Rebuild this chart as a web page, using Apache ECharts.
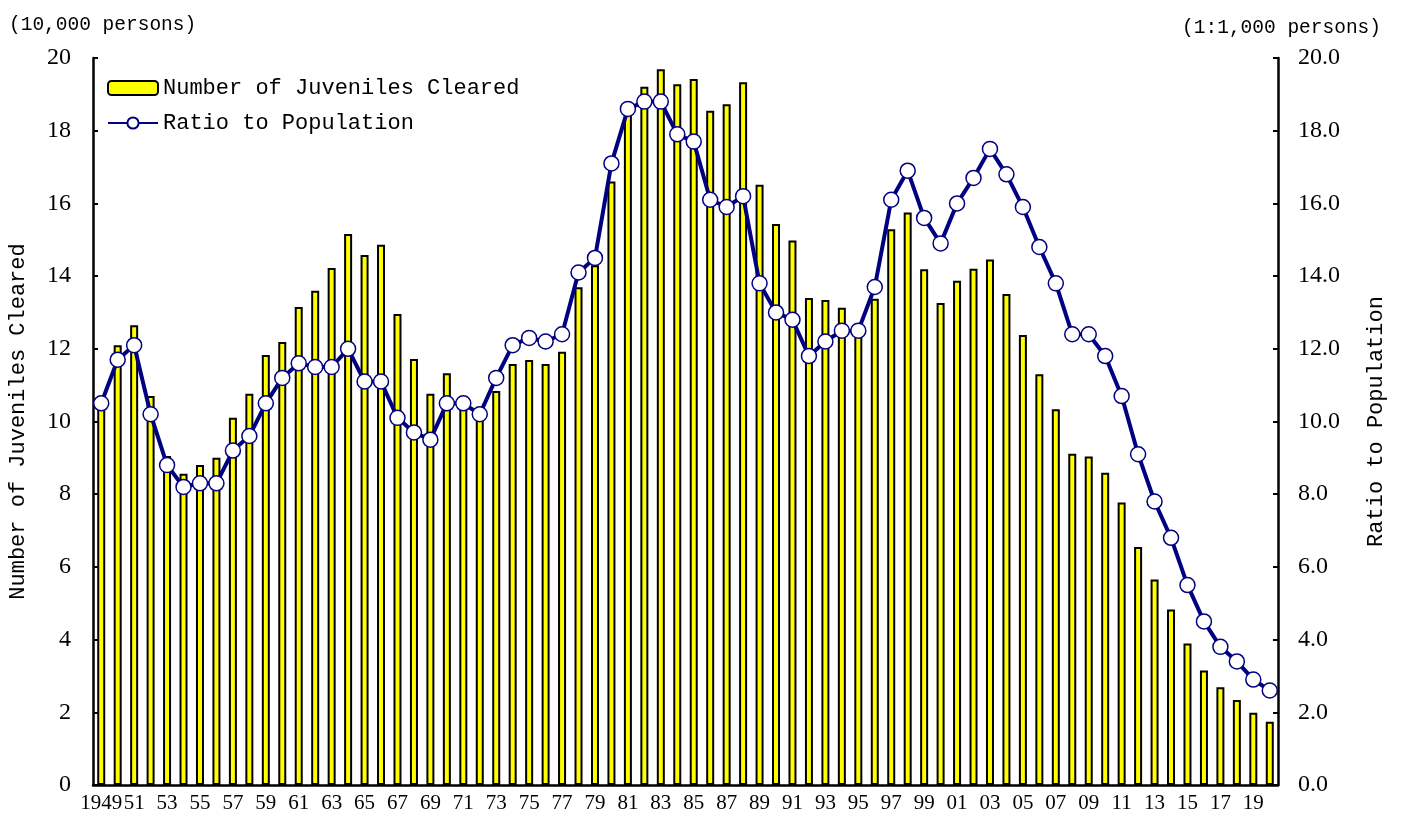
<!DOCTYPE html>
<html>
<head>
<meta charset="utf-8">
<script src="https://cdn.jsdelivr.net/npm/echarts@6/dist/echarts.min.js"></script>
<style>
  html, body { margin: 0; padding: 0; background: #fff; }
  #chart { width: 1402px; height: 820px; }
</style>
</head>
<body>
<div id="chart"></div>
<script>
// years 1949 - 2020
const years = [
  '1949', '1950', '1951', '1952', '1953', '1954', '1955', '1956', '1957', '1958',
  '1959', '1960', '1961', '1962', '1963', '1964', '1965', '1966', '1967', '1968',
  '1969', '1970', '1971', '1972', '1973', '1974', '1975', '1976', '1977', '1978',
  '1979', '1980', '1981', '1982', '1983', '1984', '1985', '1986', '1987', '1988',
  '1989', '1990', '1991', '1992', '1993', '1994', '1995', '1996', '1997', '1998',
  '1999', '2000', '2001', '2002', '2003', '2004', '2005', '2006', '2007', '2008',
  '2009', '2010', '2011', '2012', '2013', '2014', '2015', '2016', '2017', '2018',
  '2019', '2020'
]

// number of juveniles cleared (10,000 persons)
const juveniles = [
  10.7, 12.1, 12.65, 10.7, 9.05, 8.56, 8.8, 9.0, 10.1, 10.76,
  11.83, 12.19, 13.15, 13.6, 14.22, 15.16, 14.58, 14.86, 12.96, 11.72,
  10.76, 11.33, 10.7, 10.18, 10.84, 11.58, 11.69, 11.58, 11.92, 13.69,
  14.3, 16.6, 18.5, 19.21, 19.69, 19.28, 19.42, 18.55, 18.73, 19.33,
  16.51, 15.43, 14.98, 13.4, 13.34, 13.13, 12.6, 13.38, 15.29, 15.75,
  14.19, 13.26, 13.87, 14.2, 14.46, 13.51, 12.38, 11.3, 10.34, 9.11,
  9.04, 8.59, 7.77, 6.55, 5.65, 4.83, 3.89, 3.15, 2.69, 2.34,
  1.99, 1.74
]

// ratio to population (per 1,000 persons)
const ratio = [
  10.5, 11.7, 12.1, 10.2, 8.8, 8.2, 8.3, 8.3, 9.2, 9.6,
  10.5, 11.2, 11.6, 11.5, 11.5, 12.0, 11.1, 11.1, 10.1, 9.7,
  9.5, 10.5, 10.5, 10.2, 11.2, 12.1, 12.3, 12.2, 12.4, 14.1,
  14.5, 17.1, 18.6, 18.8, 18.8, 17.9, 17.7, 16.1, 15.9, 16.2,
  13.8, 13.0, 12.8, 11.8, 12.2, 12.5, 12.5, 13.7, 16.1, 16.9,
  15.6, 14.9, 16.0, 16.7, 17.5, 16.8, 15.9, 14.8, 13.8, 12.4,
  12.4, 11.8, 10.7, 9.1, 7.8, 6.8, 5.5, 4.5, 3.8, 3.4,
  2.9, 2.6
]

const seriesNames = ['Number of Juveniles Cleared', 'Ratio to Population']

const serif = 'Liberation Serif'
const mono = 'Liberation Mono'

const chart = echarts.init(document.getElementById('chart'))

const option = {
  animation: false,
  backgroundColor: '#fff',
  title: [
    {
      text: '(10,000 persons)',
      left: 4,
      top: 10,
      textStyle: { fontFamily: mono, fontSize: 19.5, fontWeight: 'normal', color: '#000' }
    },
    {
      text: '(1:1,000 persons)',
      right: 16,
      top: 13,
      textStyle: { fontFamily: mono, fontSize: 19.5, fontWeight: 'normal', color: '#000' }
    }
  ],
  legend: {
    orient: 'vertical',
    left: 102,
    top: 72,
    itemWidth: 50,
    itemHeight: 14,
    itemGap: 13,
    textStyle: { fontFamily: mono, fontSize: 22, color: '#000', lineHeight: 22 },
    data: seriesNames
  },
  grid: {
    left: 93,
    right: 124,
    top: 58,
    bottom: 35,
    containLabel: false,
    outerBoundsMode: 'none'
  },
  xAxis: {
    type: 'category',
    data: years,
    boundaryGap: true,
    axisLine: { lineStyle: { color: '#000', width: 2.5 } },
    axisTick: { inside: true, length: 5, interval: 0, lineStyle: { color: '#000', width: 2 } },
    axisLabel: {
      interval: 1,
      margin: 8,
      fontFamily: serif,
      fontSize: 21,
      color: '#000',
      formatter: function (v) {
        return v === '1949' ? v : v.slice(2)
      }
    }
  },
  yAxis: [
    {
      type: 'value',
      min: 0,
      max: 20,
      interval: 2,
      name: 'Number of Juveniles Cleared',
      nameLocation: 'middle',
      nameGap: 64,
      nameMoveOverlap: false,
      nameTextStyle: { fontFamily: mono, fontSize: 22, color: '#000' },
      axisLine: { show: true, lineStyle: { color: '#000', width: 2.5 } },
      axisTick: { show: true, inside: true, length: 5, lineStyle: { color: '#000', width: 2 } },
      axisLabel: { margin: 22, fontFamily: serif, fontSize: 24, color: '#000' },
      splitLine: { show: false }
    },
    {
      type: 'value',
      min: 0,
      max: 20,
      interval: 2,
      name: 'Ratio to Population',
      nameLocation: 'middle',
      nameGap: 87,
      nameRotate: 90,
      nameMoveOverlap: false,
      nameTextStyle: { fontFamily: mono, fontSize: 22, color: '#000' },
      axisLine: { show: true, lineStyle: { color: '#000', width: 2.5 } },
      axisTick: { show: true, inside: true, length: 5, lineStyle: { color: '#000', width: 2 } },
      axisLabel: {
        margin: 20,
        fontFamily: serif,
        fontSize: 24,
        color: '#000',
        formatter: function (v) {
          return v.toFixed(1)
        }
      },
      splitLine: { show: false }
    }
  ],
  series: [
    {
      name: seriesNames[0],
      type: 'bar',
      yAxisIndex: 0,
      barWidth: 8,
      data: juveniles,
      itemStyle: {
        color: '#ffff00',
        borderColor: '#000',
        borderWidth: 2
      }
    },
    {
      name: seriesNames[1],
      type: 'line',
      yAxisIndex: 1,
      data: ratio,
      symbol: 'circle',
      symbolSize: 15,
      showAllSymbol: true,
      lineStyle: { color: '#000080', width: 4 },
      itemStyle: {
        color: '#fff',
        borderColor: '#000080',
        borderWidth: 1.5
      },
      z: 3
    }
  ]
}

chart.setOption(option)
</script>
</body>
</html>
